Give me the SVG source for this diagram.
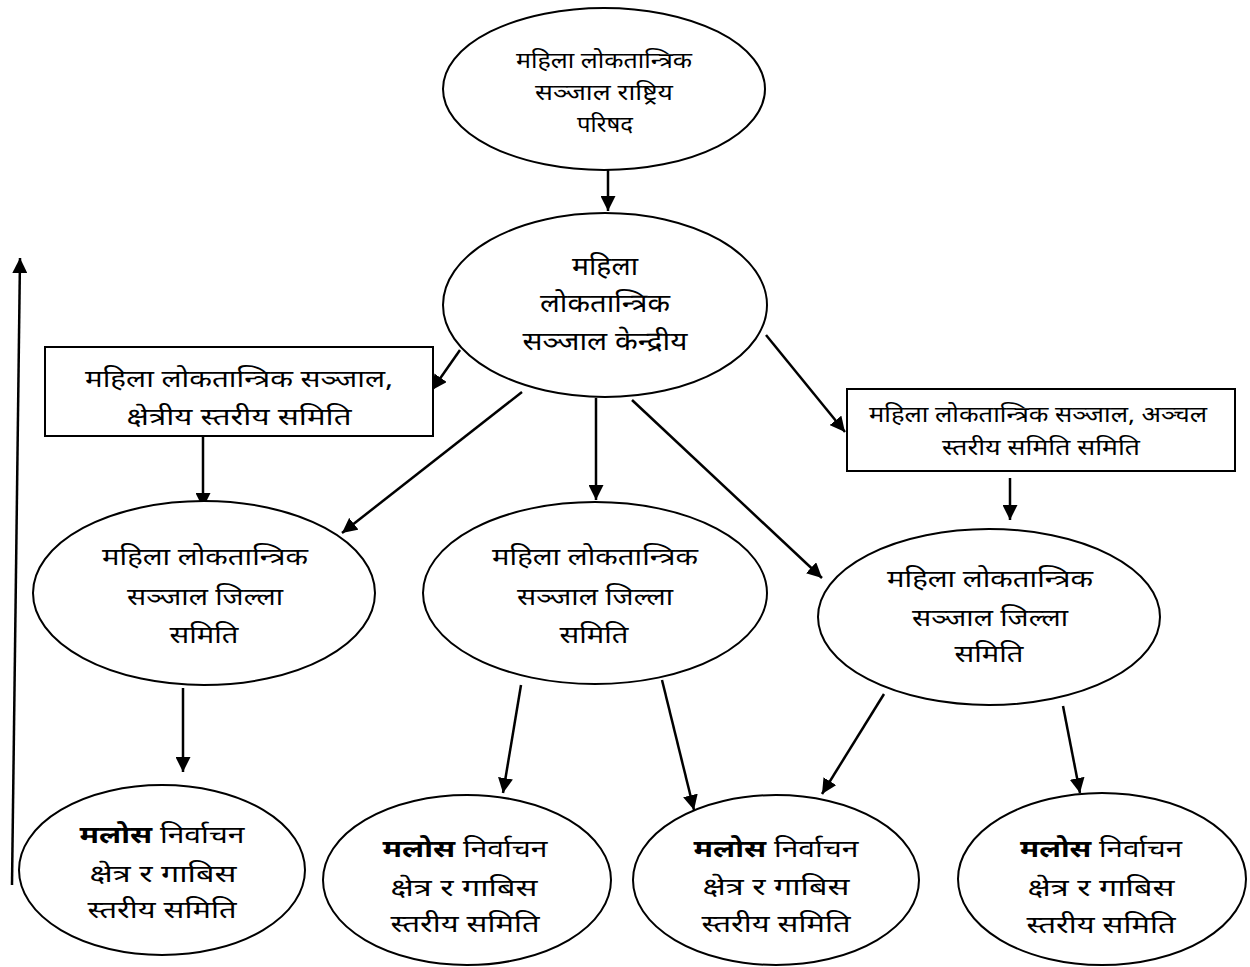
<svg xmlns="http://www.w3.org/2000/svg" width="1250" height="967" viewBox="0 0 1250 967">
<style>
.n{fill:#fff;stroke:#000;stroke-width:2}
.t{font-family:"Noto Sans Devanagari","Noto Serif Devanagari","Lohit Devanagari","FreeSerif","Noto Sans",sans-serif;fill:#000;text-anchor:middle}
.s{font-size:22px}
.m{font-size:24px}
.l{font-size:26px}
.c{stroke:#000;stroke-width:2.5;fill:none;marker-end:url(#a)}
.b{font-weight:bold}
</style>
<defs>
<marker id="a" viewBox="0 0 10 10" refX="10" refY="5" markerWidth="6" markerHeight="6" orient="auto" markerUnits="strokeWidth">
<path d="M0,0L10,5L0,10z" fill="#000"/>
</marker>
</defs>
<rect width="1250" height="967" fill="#fff"/>
<g id="connectors">
<line class="c" x1="608" y1="170" x2="608" y2="211"/>
<line class="c" x1="460" y1="350" x2="432" y2="390"/>
<line class="c" x1="203" y1="437" x2="203" y2="508"/>
<line class="c" x1="522" y1="392" x2="342" y2="533"/>
<line class="c" x1="596" y1="398" x2="596" y2="500"/>
<line class="c" x1="632" y1="400" x2="822" y2="578"/>
<line class="c" x1="766" y1="335" x2="845" y2="432"/>
<line class="c" x1="1010" y1="478" x2="1010" y2="520"/>
<line class="c" x1="183" y1="688" x2="183" y2="772"/>
<line class="c" x1="521" y1="685" x2="503" y2="793"/>
<line class="c" x1="662" y1="680" x2="694" y2="810"/>
<line class="c" x1="884" y1="694" x2="822" y2="794"/>
<line class="c" x1="1063" y1="706" x2="1080" y2="793"/>
<line class="c" x1="12" y1="885" x2="20" y2="258"/>
</g>
<g id="national">
<ellipse class="n" cx="604" cy="89" rx="161" ry="81"/>
<text class="t s" x="604" y="68" textLength="176" lengthAdjust="spacingAndGlyphs">महिला लोकतान्त्रिक</text>
<text class="t s" x="604" y="100" textLength="138" lengthAdjust="spacingAndGlyphs">सञ्जाल राष्ट्रिय</text>
<text class="t s" x="605" y="132" textLength="56" lengthAdjust="spacingAndGlyphs">परिषद</text>
</g>
<g id="central">
<ellipse class="n" cx="605" cy="305" rx="162" ry="92"/>
<text class="t l" x="605" y="275" textLength="66" lengthAdjust="spacingAndGlyphs">महिला</text>
<text class="t l" x="605" y="312" textLength="130" lengthAdjust="spacingAndGlyphs">लोकतान्त्रिक</text>
<text class="t l" x="605" y="350" textLength="165" lengthAdjust="spacingAndGlyphs">सञ्जाल केन्द्रीय</text>
</g>
<g id="regional">
<rect class="n" x="45" y="347" width="388" height="89"/>
<text class="t m" x="239" y="387" textLength="308" lengthAdjust="spacingAndGlyphs">महिला लोकतान्त्रिक सञ्जाल,</text>
<text class="t m" x="239" y="425" textLength="225" lengthAdjust="spacingAndGlyphs">क्षेत्रीय स्तरीय समिति</text>
</g>
<g id="zonal">
<rect class="n" x="847" y="389" width="388" height="82"/>
<text class="t s" x="1038" y="422" textLength="338" lengthAdjust="spacingAndGlyphs">महिला लोकतान्त्रिक सञ्जाल, अञ्चल</text>
<text class="t s" x="1041" y="455" textLength="198" lengthAdjust="spacingAndGlyphs">स्तरीय समिति समिति</text>
</g>
<g id="district1">
<ellipse class="n" cx="204" cy="593" rx="171" ry="92"/>
<text class="t m" x="205" y="565" textLength="206" lengthAdjust="spacingAndGlyphs">महिला लोकतान्त्रिक</text>
<text class="t m" x="205" y="605" textLength="156" lengthAdjust="spacingAndGlyphs">सञ्जाल जिल्ला</text>
<text class="t m" x="204" y="643" textLength="69" lengthAdjust="spacingAndGlyphs">समिति</text>
</g>
<g id="district2">
<ellipse class="n" cx="595" cy="593" rx="172" ry="91"/>
<text class="t m" x="595" y="565" textLength="206" lengthAdjust="spacingAndGlyphs">महिला लोकतान्त्रिक</text>
<text class="t m" x="595" y="605" textLength="156" lengthAdjust="spacingAndGlyphs">सञ्जाल जिल्ला</text>
<text class="t m" x="594" y="643" textLength="69" lengthAdjust="spacingAndGlyphs">समिति</text>
</g>
<g id="district3">
<ellipse class="n" cx="989" cy="617" rx="171" ry="88"/>
<text class="t m" x="990" y="587" textLength="206" lengthAdjust="spacingAndGlyphs">महिला लोकतान्त्रिक</text>
<text class="t m" x="990" y="626" textLength="156" lengthAdjust="spacingAndGlyphs">सञ्जाल जिल्ला</text>
<text class="t m" x="989" y="662" textLength="69" lengthAdjust="spacingAndGlyphs">समिति</text>
</g>
<g id="local1">
<ellipse class="n" cx="162" cy="870" rx="143" ry="85"/>
<text class="t m" x="162" y="843" textLength="165" lengthAdjust="spacingAndGlyphs"><tspan class="b">मलोस</tspan> निर्वाचन</text>
<text class="t m" x="163" y="882" textLength="147" lengthAdjust="spacingAndGlyphs">क्षेत्र र गाबिस</text>
<text class="t m" x="162" y="918" textLength="149" lengthAdjust="spacingAndGlyphs">स्तरीय समिति</text>
</g>
<g id="local2">
<ellipse class="n" cx="467" cy="880" rx="144" ry="85"/>
<text class="t m" x="465" y="857" textLength="165" lengthAdjust="spacingAndGlyphs"><tspan class="b">मलोस</tspan> निर्वाचन</text>
<text class="t m" x="464" y="896" textLength="147" lengthAdjust="spacingAndGlyphs">क्षेत्र र गाबिस</text>
<text class="t m" x="465" y="932" textLength="149" lengthAdjust="spacingAndGlyphs">स्तरीय समिति</text>
</g>
<g id="local3">
<ellipse class="n" cx="776" cy="880" rx="143" ry="85"/>
<text class="t m" x="776" y="857" textLength="165" lengthAdjust="spacingAndGlyphs"><tspan class="b">मलोस</tspan> निर्वाचन</text>
<text class="t m" x="776" y="895" textLength="147" lengthAdjust="spacingAndGlyphs">क्षेत्र र गाबिस</text>
<text class="t m" x="776" y="932" textLength="149" lengthAdjust="spacingAndGlyphs">स्तरीय समिति</text>
</g>
<g id="local4">
<ellipse class="n" cx="1102" cy="879" rx="144" ry="86"/>
<text class="t m" x="1101" y="857" textLength="162" lengthAdjust="spacingAndGlyphs"><tspan class="b">मलोस</tspan> निर्वाचन</text>
<text class="t m" x="1101" y="896" textLength="147" lengthAdjust="spacingAndGlyphs">क्षेत्र र गाबिस</text>
<text class="t m" x="1101" y="933" textLength="149" lengthAdjust="spacingAndGlyphs">स्तरीय समिति</text>
</g>
</svg>
